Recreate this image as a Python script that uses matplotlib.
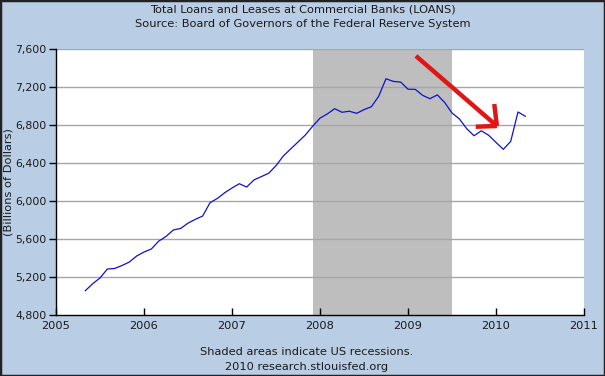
import matplotlib
matplotlib.use("Agg")
import matplotlib.pyplot as plt
from matplotlib.patches import Rectangle
import numpy as np

# Monthly data, May 2005 .. May 2010 (billions of dollars)
start_year = 2005
start_month = 5
values = [5059, 5132, 5193, 5287, 5293, 5324, 5361, 5424,
          5466, 5498, 5580, 5630, 5698, 5714, 5770, 5810, 5845, 5985, 6030, 6090,
          6140, 6185, 6150, 6225, 6260, 6295, 6375, 6477, 6551, 6624, 6698, 6790,
          6875, 6920, 6975, 6937, 6948, 6926, 6965, 6995, 7105, 7290, 7262, 7255,
          7180, 7178, 7115, 7080, 7120, 7040, 6930, 6868, 6765, 6690, 6742, 6695,
          6620, 6547, 6630, 6940, 6895]
dates = [start_year + (start_month - 1 + i) / 12.0 for i in range(len(values))]

recession = (2007.917, 2009.5)
x_ticks = [2005, 2006, 2007, 2008, 2009, 2010, 2011]
y_ticks = [4800, 5200, 5600, 6000, 6400, 6800, 7200, 7600]

title1 = "Total Loans and Leases at Commercial Banks (LOANS)"
title2 = "Source: Board of Governors of the Federal Reserve System"
ylabel = "(Billions of Dollars)"
foot1 = "Shaded areas indicate US recessions."
foot2 = "2010 research.stlouisfed.org"

# hand-drawn red arrow annotation (data coords)
arrow_shaft = ([2009.09, 2010.01], [7530, 6793])
arrow_h = ([2009.77, 2010.01], [6785, 6793])
arrow_v = ([2009.98, 2010.01], [7024, 6793])

bg = "#B9CDE4"
txt = "#1a1a1a"
fs = 8.2

fig = plt.figure(figsize=(6.05, 3.76), dpi=100, facecolor=bg)
ax = fig.add_axes([56/605, 1-315.3/376, (584-56)/605, (315.3-49.3)/376])
ax.set_facecolor("white")

ax.axvspan(recession[0], recession[1], color="#BEBEBE", zorder=1, lw=0)
for yv in y_ticks[1:]:
    ax.axhline(yv, color="#A6A6A6", lw=1, zorder=1.5)

ax.plot(dates, values, color="#1010CC", lw=0.9, zorder=3)

for xs, ys in (arrow_shaft, arrow_h, arrow_v):
    ax.plot(xs, ys, color="#E01515", lw=3.2, solid_capstyle="butt", zorder=4)

ax.set_xlim(2005, 2011)
ax.set_ylim(4800, 7600)
ax.set_xticks(x_ticks)
ax.set_xticklabels([str(x) for x in x_ticks])
ax.set_yticks(y_ticks)
ax.set_yticklabels([f"{y:,}" for y in y_ticks])
ax.tick_params(axis="x", direction="in", length=5, width=1, color="black",
               labelsize=fs, labelcolor=txt, pad=4)
ax.tick_params(axis="y", direction="out", length=5, width=1, color="black",
               labelsize=7.8, labelcolor=txt, pad=2)
for s in ("top", "right"):
    ax.spines[s].set_visible(False)
for s in ("left", "bottom"):
    ax.spines[s].set_color("black")
    ax.spines[s].set_linewidth(1)

fig.text(9/605, 1-182/376, ylabel, rotation=90, ha="center", va="center",
         fontsize=fs, color=txt)
fig.text(0.5, 1-10/376, title1, ha="center", va="center", fontsize=fs, color=txt)
fig.text(0.5, 1-24/376, title2, ha="center", va="center", fontsize=fs, color=txt)
fig.text(307/605, 1-352/376, foot1, ha="center", va="center", fontsize=fs, color=txt)
fig.text(307/605, 1-367/376, foot2, ha="center", va="center", fontsize=fs, color=txt)

fig.patches.append(Rectangle((0, 0), 1, 1, transform=fig.transFigure, fill=False,
                             edgecolor="#222222", lw=2.5, zorder=10))

fig.savefig("out.png", dpi=100, facecolor=bg)
